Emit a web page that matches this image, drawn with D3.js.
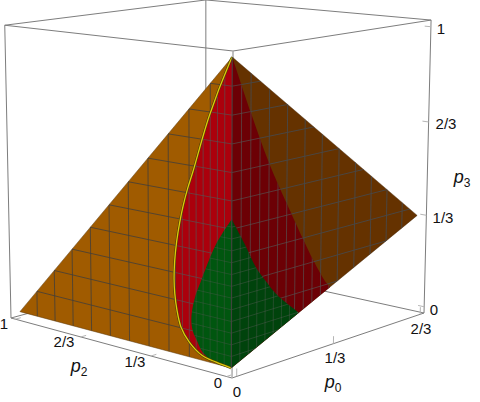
<!DOCTYPE html>
<html><head><meta charset="utf-8">
<script src="https://cdn.jsdelivr.net/npm/d3@7"></script>
<style>html,body{margin:0;padding:0;background:#fff}svg{display:block}
text{font-family:"Liberation Sans",Arial,sans-serif;fill:#111}</style></head>
<body><svg id="c" width="480" height="402"></svg>
<script>
// ---- data ----
const p0Ticks = [0, 1/3, 2/3];
const p0TickLabels = ["0", "1/3", "2/3"];
const p2Ticks = [0, 1/3, 2/3, 1];
const p2TickLabels = ["0", "1/3", "2/3", "1"];
const p3Ticks = [0, 1/3, 2/3, 1];
const p3TickLabels = ["0", "1/3", "2/3", "1"];

// left face (p0 = 0): [p2, p3]
const leftFace = [[0,1],[1,0],[0,0]];
const leftRedCurve = [[0,1],[0.01,0.983],[0.095,0.806],[0.165,0.618],[0.188,0.56],[0.207,0.503],[0.223,0.444],[0.237,0.377],[0.246,0.31],[0.249,0.25],[0.246,0.202],[0.237,0.15],[0.219,0.094],[0.182,0.05],[0.125,0.016],[0.065,0.006],[0,0]];
const leftGreenCurve = [[0,0.487],[0.065,0.397],[0.125,0.276],[0.16,0.195],[0.173,0.127],[0.165,0.087],[0.147,0.06],[0.125,0.029],[0.082,0.008],[0,0]];

// right face (p2 = 0): [p0, p3]
const rightFace = [[0,1],[2/3,1/3],[0,0]];
const rightRedCurve = [[0,1],[0.06,0.815],[0.118,0.648],[0.165,0.532],[0.188,0.479],[0.238,0.363],[0.278,0.274],[0.322,0.19],[0.338,0.169]];
const rightGreenCurve = [[0,0.487],[0.043,0.394],[0.08,0.308],[0.117,0.247],[0.15,0.198],[0.227,0.1135]];

// mesh spacing of each surface
const coarseP2 = d3.range(1, 11).map(k => k/11);
const coarseP3 = d3.range(1, 11).map(k => k/11);
const orangeP0 = d3.range(1, 11).map(k => 2*k/33);
const redP2 = d3.range(1, 11).map(k => k/33);
const redP0 = d3.range(1, 22).map(k => k/33);
const greenP2 = d3.range(1, 8).map(k => k/33);
const greenP0 = d3.range(1, 12).map(k => k/36);
const greenP3 = d3.range(1, 13).map(k => k/26);

// ---- projection ----
const pad = 0.022;
const uS = d3.scaleLinear().domain([0, 2/3]).range([pad, 1-pad]);
const vS = d3.scaleLinear().domain([0, 1]).range([pad, 1-pad]);
const wS = d3.scaleLinear().domain([0, 1]).range([pad, 1-pad]);
const O=[232,378], A=[424,313], B=[11,318], C=[233,51];
const a=1.12, b=1.12, c=0.965;
function cam(u,v,w){
  const W = 1+u*(a-1)+v*(b-1)+w*(c-1);
  const X = O[0]+u*(a*A[0]-O[0])+v*(b*B[0]-O[0])+w*(c*C[0]-O[0]);
  const Y = O[1]+u*(a*A[1]-O[1])+v*(b*B[1]-O[1])+w*(c*C[1]-O[1]);
  return [X/W, Y/W];
}
const P = (p0,p2,p3) => cam(uS(p0),vS(p2),wS(p3));
const L = d => P(0,d[0],d[1]);
const R = d => P(d[0],0,d[1]);

const svg = d3.select("#c");
const defs = svg.append("defs");
const line = d3.line();
const smooth = d3.line().curve(d3.curveCatmullRom.alpha(0.5));
const path = pts => line(pts)+"Z";

// region outlines in screen space
const leftRedOutline = smooth(leftRedCurve.map(L)) + "Z";
const leftGreenOutline = smooth(leftGreenCurve.map(L)) + "Z";
const rightRedOutline = smooth(rightRedCurve.map(R)) + "L" + R([0,0]).join(",") + "Z";
const rightGreenOutline = smooth(rightGreenCurve.map(R)) + "L" + R([0,0]).join(",") + "Z";
const leftFacePath = path(leftFace.map(L));
const rightFacePath = path(rightFace.map(R));

[["cLO",leftFacePath],["cRO",rightFacePath],["cLR",leftRedOutline],["cLG",leftGreenOutline],["cRR",rightRedOutline],["cRG",rightGreenOutline]]
 .forEach(([id,d]) => defs.append("clipPath").attr("id",id).append("path").attr("d",d));

// ---- box ----
const bx = (u,v,w) => cam(u,v,w);
const boxColor = "#7d7d7d";
function seg(g,p,q,col,wd){ g.append("path").attr("d",line([p,q])).attr("fill","none").attr("stroke",col).attr("stroke-width",wd); }
const back = svg.append("g");
[[[0,1,1],[1,1,1]],[[1,0,1],[1,1,1]],[[0,0,1],[1,0,1]],[[0,0,1],[0,1,1]],
 [[1,1,0],[1,1,1]],[[0,1,0],[0,1,1]],[[1,0,0],[1,0,1]],
 [[0,1,0],[1,1,0]],[[1,0,0],[1,1,0]],[[0,0,0],[0,1,0]],[[0,0,0],[1,0,0]],[[0,0,0],[0,0,1]]]
 .forEach(e => seg(back, bx(...e[0]), bx(...e[1]), boxColor, 1));

// ticks
const tickC = "#b5b5b5", tk = 0.025;
p2Ticks.forEach(t => seg(back, bx(0,vS(t),0), bx(tk,vS(t),0), tickC, 1));
p0Ticks.forEach(t => seg(back, bx(uS(t),0,0), bx(uS(t),0,tk), tickC, 1));
p3Ticks.forEach(t => seg(back, bx(1,0,wS(t)), bx(1,tk,wS(t)), tickC, 1));

// ---- surfaces ----
const colors = {orangeL:"#a05b00", orangeR:"#653200", redL:"#ab000c", redR:"#6c0005", greenL:"#00560f", greenR:"#00430c"};
const meshLeft = "rgba(66,62,58,0.8)", meshRight = "rgba(72,72,72,0.9)", meshFine = "rgba(85,85,85,0.72)";

function meshLines(clip, toScreen, aVals, bVals, aMax, bMax, col, wd){
  const g = svg.append("g").attr("clip-path",`url(#${clip})`).attr("fill","none").attr("stroke",col).attr("stroke-width",wd);
  aVals.forEach(t => g.append("path").attr("d",line([toScreen([t,0]),toScreen([t,bMax])])));
  bVals.forEach(t => g.append("path").attr("d",line([toScreen([0,t]),toScreen([aMax,t])])));
}

svg.append("path").attr("d",leftFacePath).attr("fill",colors.orangeL).attr("stroke","#5a3a10").attr("stroke-width",0.5);
meshLines("cLO",L,coarseP2,coarseP3,1,1,meshLeft,1);
svg.append("path").attr("d",rightFacePath).attr("fill",colors.orangeR).attr("stroke","#3d2205").attr("stroke-width",0.4);
meshLines("cRO",R,orangeP0,coarseP3,2/3,1,meshRight,1);

svg.append("path").attr("d",leftRedOutline).attr("fill",colors.redL);
meshLines("cLR",L,redP2,coarseP3,1,1,meshFine,0.9);
svg.append("path").attr("d",rightRedOutline).attr("fill",colors.redR);
meshLines("cRR",R,redP0,coarseP3,2/3,1,meshFine,0.9);

svg.append("path").attr("d",leftGreenOutline).attr("fill",colors.greenL);
meshLines("cLG",L,greenP2,greenP3,1,1,"rgba(90,90,90,0.5)",0.7);
svg.append("path").attr("d",rightGreenOutline).attr("fill",colors.greenR);
meshLines("cRG",R,greenP0,greenP3,2/3,1,"rgba(95,95,95,0.55)",0.7);

// yellow boundary curve
svg.append("path").attr("d",smooth(leftRedCurve.map(L))).attr("fill","none").attr("stroke","#4a3f00").attr("stroke-width",2.4);
svg.append("path").attr("d",smooth(leftRedCurve.map(L))).attr("fill","none").attr("stroke","#dcc80c").attr("stroke-width",1.3);

// fold line
seg(svg, L([0,0]), L([0,1]), "rgba(70,70,70,0.85)", 1.2);
seg(svg, bx(0,0,0), R([0,0]), "#c8c8c8", 1);
seg(svg, bx(0,0,1), L([0,1]), "#c0c0c0", 1);

// ---- labels ----
function lab(x,y,t,size=15){ svg.append("text").attr("x",x).attr("y",y).attr("text-anchor","middle").attr("font-size",size).text(t); }
[[218,388],[135,367],[64,347],[4,329]].forEach((q,i)=>lab(q[0],q[1],p2TickLabels[i]));
[[237,397],[335,363],[421,334]].forEach((q,i)=>lab(q[0],q[1],p0TickLabels[i]));
[[434,315],[443,223],[446,129],[441,34]].forEach((q,i)=>lab(q[0],q[1],p3TickLabels[i]));
function axis(x,y,s){
  const t = svg.append("text").attr("x",x).attr("y",y).attr("text-anchor","middle").attr("font-size",18);
  t.append("tspan").attr("font-style","italic").text("p");
  t.append("tspan").attr("font-size",12).attr("dy",3.5).text(s);
}
axis(79,372,"2"); axis(333,388,"0"); axis(462,183,"3");
</script></body></html>
